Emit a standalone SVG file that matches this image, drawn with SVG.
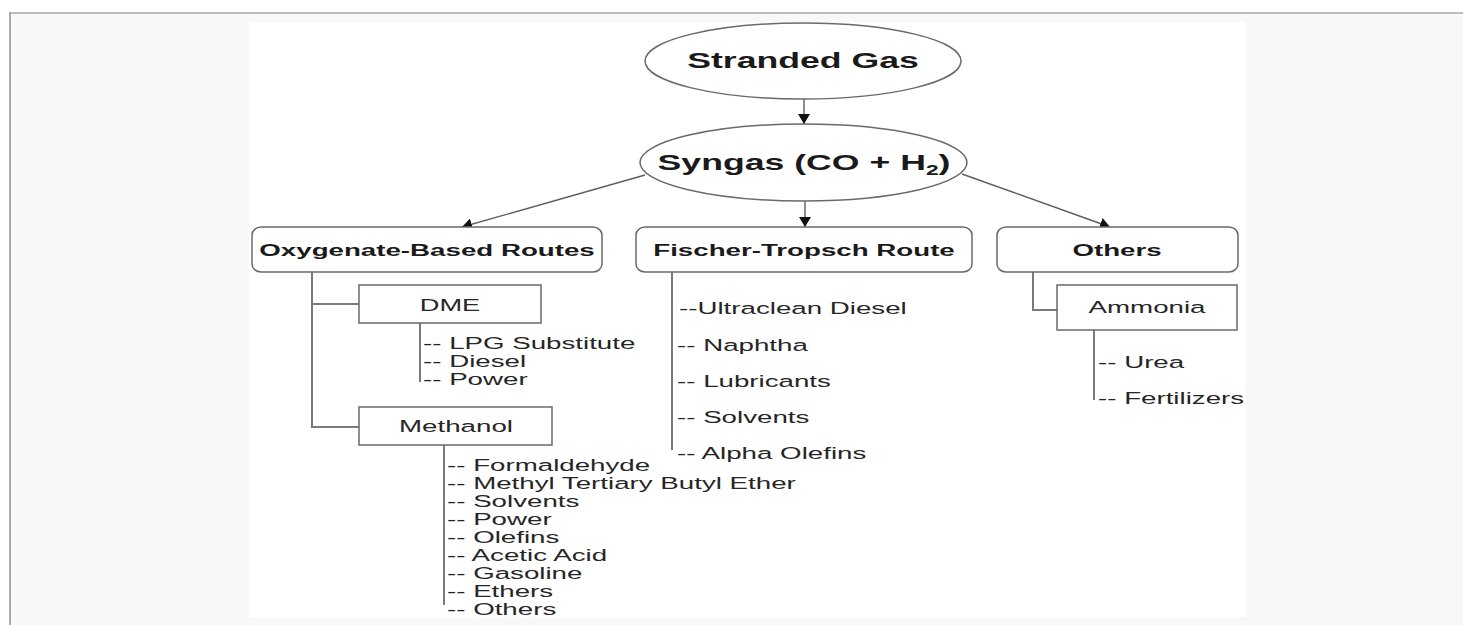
<svg xmlns="http://www.w3.org/2000/svg" width="1463" height="625" viewBox="0 0 1463 625">
<defs>
<marker id="ah" markerUnits="userSpaceOnUse" markerWidth="10" markerHeight="12" viewBox="0 0 10 12" refX="10" refY="6" orient="auto"><path d="M0,0 L10,6 L0,12 z" fill="#111"/></marker>
<style>
.bg{fill:#f8f8f8}
.frame{stroke:#a8a8a8;fill:none}
.node{fill:#fff;stroke:#6a6a6a;stroke-width:1.5}
.conn{stroke:#5c5c5c;stroke-width:1.4;fill:none}
.vl{stroke:#7a7a7a;stroke-width:2;fill:none}
.t{font-family:"Liberation Sans",Arial,sans-serif;fill:#262626}
.b{font-weight:bold;fill:#1a1a1a}
.big{font-size:22px}
.m{font-size:17px}
.c{text-anchor:middle}
</style>
</defs>
<rect x="0" y="0" width="1463" height="625" fill="#fff"/>
<rect class="bg" x="10" y="13" width="1453" height="612"/>
<line class="frame" x1="9" y1="13" x2="1463" y2="13" stroke-width="1.6"/>
<line class="frame" x1="10" y1="12" x2="10" y2="625" stroke-width="2"/>
<rect x="249" y="22" width="997" height="595" fill="#fff"/>

<g id="connectors">
<line class="conn" x1="804" y1="99" x2="804" y2="124" marker-end="url(#ah)"/>
<line class="conn" x1="645" y1="175" x2="462" y2="227" marker-end="url(#ah)"/>
<line class="conn" x1="805" y1="190" x2="805" y2="227" marker-end="url(#ah)"/>
<line class="conn" x1="962" y1="174" x2="1110" y2="227" marker-end="url(#ah)"/>
<polyline class="vl" points="312,272 312,427 360,427"/>
<line class="vl" x1="312" y1="304" x2="359" y2="304"/>
<line class="vl" x1="420" y1="323" x2="420" y2="382"/>
<line class="vl" x1="444" y1="445" x2="444" y2="605"/>
<line class="vl" x1="672" y1="272" x2="672" y2="450"/>
<polyline class="vl" points="1033,272 1033,310 1057,310"/>
<line class="vl" x1="1094" y1="330" x2="1094" y2="400"/>
</g>

<g id="stranded-gas">
<ellipse class="node" cx="803" cy="61" rx="158" ry="38"/>
<text class="t b big c" transform="translate(803,68) scale(1.62,1)">Stranded Gas</text>
</g>
<g id="syngas">
<ellipse class="node" cx="803.5" cy="162.5" rx="163.5" ry="38.5"/>
<text class="t b big c" transform="translate(804,170) scale(1.62,1)">Syngas (CO + H<tspan font-size="14" dy="5">2</tspan><tspan dy="-5">)</tspan></text>
</g>
<g id="oxygenate">
<rect class="node" x="252" y="227" width="350" height="45" rx="9" ry="8"/>
<text class="t b m c" transform="translate(427,256) scale(1.63,1)">Oxygenate-Based Routes</text>
</g>
<g id="fischer-tropsch">
<rect class="node" x="636" y="227" width="336" height="45" rx="9" ry="8"/>
<text class="t b m c" transform="translate(804,256) scale(1.63,1)">Fischer-Tropsch Route</text>
</g>
<g id="others">
<rect class="node" x="997" y="227" width="241" height="45" rx="9" ry="8"/>
<text class="t b m c" transform="translate(1117,256) scale(1.63,1)">Others</text>
</g>
<g id="dme">
<rect class="node" x="359" y="285" width="182" height="38"/>
<text class="t m c" transform="translate(450,311) scale(1.6,1)">DME</text>
</g>
<g id="methanol">
<rect class="node" x="359" y="407" width="193" height="38"/>
<text class="t m c" transform="translate(456,432) scale(1.63,1)">Methanol</text>
</g>
<g id="ammonia">
<rect class="node" x="1057" y="285" width="180" height="45"/>
<text class="t m c" transform="translate(1147,313) scale(1.63,1)">Ammonia</text>
</g>

<g id="dme-products">
<text class="t m" transform="translate(423,349) scale(1.63,1)">-- LPG Substitute</text>
<text class="t m" transform="translate(423,367) scale(1.63,1)">-- Diesel</text>
<text class="t m" transform="translate(423,385) scale(1.63,1)">-- Power</text>
</g>
<g id="methanol-products">
<text class="t m" transform="translate(447,470.5) scale(1.63,1)">-- Formaldehyde</text>
<text class="t m" transform="translate(447,488.5) scale(1.63,1)">-- Methyl Tertiary Butyl Ether</text>
<text class="t m" transform="translate(447,506.5) scale(1.63,1)">-- Solvents</text>
<text class="t m" transform="translate(447,524.5) scale(1.63,1)">-- Power</text>
<text class="t m" transform="translate(447,542.5) scale(1.63,1)">-- Olefins</text>
<text class="t m" transform="translate(447,560.5) scale(1.63,1)">-- Acetic Acid</text>
<text class="t m" transform="translate(447,578.5) scale(1.63,1)">-- Gasoline</text>
<text class="t m" transform="translate(447,596.5) scale(1.63,1)">-- Ethers</text>
<text class="t m" transform="translate(447,614.5) scale(1.63,1)">-- Others</text>
</g>
<g id="ft-products">
<text class="t m" transform="translate(679,314) scale(1.63,1)">--Ultraclean Diesel</text>
<text class="t m" transform="translate(677,350.5) scale(1.63,1)">-- Naphtha</text>
<text class="t m" transform="translate(677,386.5) scale(1.63,1)">-- Lubricants</text>
<text class="t m" transform="translate(677,422.5) scale(1.63,1)">-- Solvents</text>
<text class="t m" transform="translate(677,458.5) scale(1.63,1)">-- Alpha Olefins</text>
</g>
<g id="ammonia-products">
<text class="t m" transform="translate(1098,368) scale(1.63,1)">-- Urea</text>
<text class="t m" transform="translate(1098,404) scale(1.63,1)">-- Fertilizers</text>
</g>
</svg>
